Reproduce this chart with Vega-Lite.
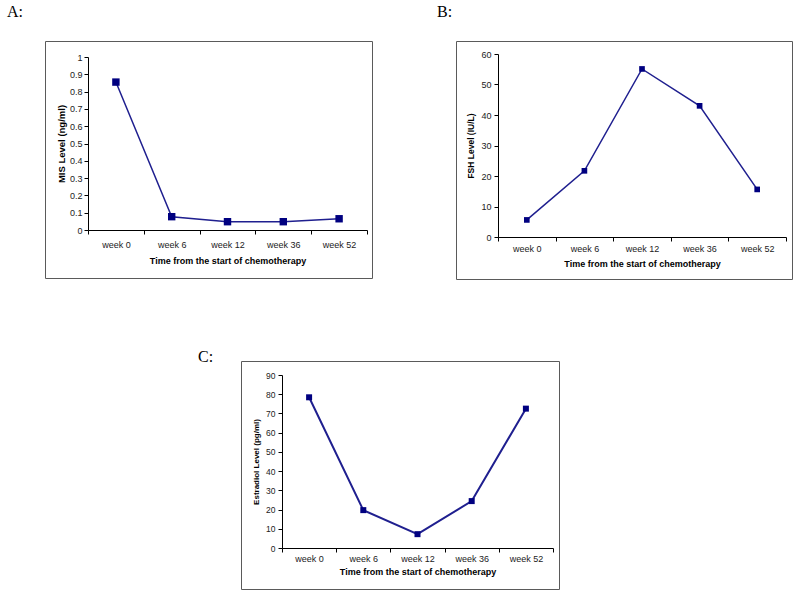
{
  "$schema": "https://vega.github.io/schema/vega-lite/v6.json",
  "padding": {"left": 6, "top": 3, "right": 5, "bottom": 5},
  "background": "white",
  "bounds": "full",
  "spacing": 68,
  "config": {
    "view": {"stroke": "#5a5a5a", "strokeWidth": 1},
    "font": "Liberation Sans",
    "axis": {"grid": false, "domainColor": "#000000", "tickColor": "#000000", "labelColor": "#222222", "titleColor": "#000000", "labelFont": "Liberation Sans", "titleFont": "Liberation Sans", "titleFontWeight": "bold", "tickSize": 4, "domainWidth": 1, "tickWidth": 1},
    "title": {"font": "Liberation Serif", "fontSize": 16, "fontWeight": "normal", "anchor": "start", "frame": "group", "baseline": "alphabetic", "color": "#000000"}
  },
  "vconcat": [
    {
      "hconcat": [
        {
          "width": 327, "height": 237,
          "title": {"text": "A:", "dx": -38, "offset": 21},
          "data": {"values": [
            {"week": "week 0", "value": 0.855},
            {"week": "week 6", "value": 0.077},
            {"week": "week 12", "value": 0.048},
            {"week": "week 36", "value": 0.048},
            {"week": "week 52", "value": 0.065}
          ]},
          "encoding": {
            "x": {"field": "week", "type": "nominal", "sort": null,
              "scale": {"type": "band", "range": [43, 322], "paddingInner": 0, "paddingOuter": 0},
              "axis": {"title": "Time from the start of chemotherapy", "offset": -48, "labelAngle": 0, "tickBand": "extent", "labelFontSize": 9, "titleFontSize": 9, "labelPadding": 6, "titlePadding": 7}},
            "y": {"field": "value", "type": "quantitative",
              "scale": {"domain": [0, 1], "range": [189, 16], "nice": false},
              "axis": {"title": "MIS Level (ng/ml)", "offset": -43, "values": [0, 0.1, 0.2, 0.3, 0.4, 0.5, 0.6, 0.7, 0.8, 0.9, 1], "format": "~g", "labelFontSize": 9, "titleFontSize": 9.5, "labelPadding": 2, "titlePadding": 3}}
          },
          "layer": [
            {"mark": {"type": "line", "color": "#1f1f8f", "strokeWidth": 1.5}},
            {"mark": {"type": "point", "shape": "square", "filled": true, "size": 55, "color": "#000080", "opacity": 1}}
          ]
        },
        {
          "width": 336, "height": 238,
          "title": {"text": "B:", "dx": -19, "offset": 21},
          "data": {"values": [
            {"week": "week 0", "value": 5.6},
            {"week": "week 6", "value": 21.7},
            {"week": "week 12", "value": 55.1},
            {"week": "week 36", "value": 43.0},
            {"week": "week 52", "value": 15.6}
          ]},
          "encoding": {
            "x": {"field": "week", "type": "nominal", "sort": null,
              "scale": {"type": "band", "range": [42, 330], "paddingInner": 0, "paddingOuter": 0},
              "axis": {"title": "Time from the start of chemotherapy", "offset": -42, "labelAngle": 0, "tickBand": "extent", "labelFontSize": 9, "titleFontSize": 9, "labelPadding": 3, "titlePadding": 6}},
            "y": {"field": "value", "type": "quantitative",
              "scale": {"domain": [0, 60], "range": [196, 13], "nice": false},
              "axis": {"title": "FSH Level (IU/L)", "offset": -42, "values": [0, 10, 20, 30, 40, 50, 60], "labelFontSize": 9, "titleFontSize": 8.5, "labelPadding": 3, "titlePadding": 5}}
          },
          "layer": [
            {"mark": {"type": "line", "color": "#1f1f8f", "strokeWidth": 1.5}},
            {"mark": {"type": "point", "shape": "square", "filled": true, "size": 32, "color": "#000080", "opacity": 1}}
          ]
        }
      ],
      "spacing": 84,
      "bounds": "flush"
    },
    {
      "hconcat": [
        {
          "width": 196, "height": 10,
          "view": {"stroke": null},
          "data": {"values": [{}]},
          "mark": {"type": "point", "opacity": 0},
          "encoding": {}
        },
        {
          "width": 318, "height": 228,
          "title": {"text": "C:", "dx": -43, "offset": -4},
          "data": {"values": [
            {"week": "week 0", "value": 78.4},
            {"week": "week 6", "value": 19.7},
            {"week": "week 12", "value": 7.2},
            {"week": "week 36", "value": 24.4},
            {"week": "week 52", "value": 72.5}
          ]},
          "encoding": {
            "x": {"field": "week", "type": "nominal", "sort": null,
              "scale": {"type": "band", "range": [41, 312], "paddingInner": 0, "paddingOuter": 0},
              "axis": {"title": "Time from the start of chemotherapy", "offset": -41, "labelAngle": 0, "tickBand": "extent", "labelFontSize": 9, "titleFontSize": 9, "labelPadding": 2, "titlePadding": 4}},
            "y": {"field": "value", "type": "quantitative",
              "scale": {"domain": [0, 90], "range": [187, 14], "nice": false},
              "axis": {"title": "Estradiol Level (pg/ml)", "offset": -41, "values": [0, 10, 20, 30, 40, 50, 60, 70, 80, 90], "labelFontSize": 8.5, "titleFontSize": 8, "labelPadding": 3, "titlePadding": 5}}
          },
          "layer": [
            {"mark": {"type": "line", "color": "#1f1f8f", "strokeWidth": 2}},
            {"mark": {"type": "point", "shape": "square", "filled": true, "size": 36, "color": "#000080", "opacity": 1}}
          ]
        }
      ],
      "spacing": 0,
      "bounds": "flush"
    }
  ]
}
